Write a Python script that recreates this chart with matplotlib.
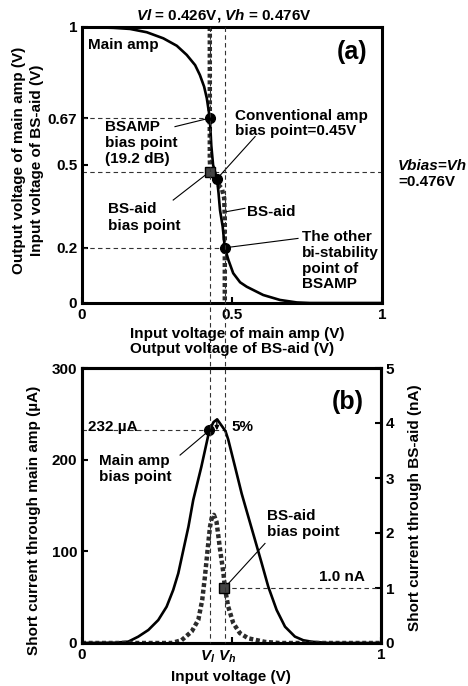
import matplotlib
matplotlib.use("Agg")
import matplotlib.pyplot as plt
from matplotlib.lines import Line2D
from matplotlib.transforms import blended_transform_factory

plt.rcParams["font.family"] = ["Liberation Sans", "DejaVu Sans"]
plt.rcParams["font.weight"] = "bold"
plt.rcParams["font.size"] = 11
plt.rcParams["mathtext.fontset"] = "custom"
plt.rcParams["mathtext.rm"] = "Liberation Sans:bold"
plt.rcParams["mathtext.it"] = "Liberation Sans:bold:italic"
plt.rcParams["mathtext.bf"] = "Liberation Sans:bold"

# switching voltages of the BS-aid
v_low = 0.426
v_high = 0.476

# (a) transfer curve of the main amp: input -> output (V)
main_vin = [0.0, 0.104, 0.16, 0.216, 0.271, 0.316, 0.349, 0.377, 0.393,
            0.407, 0.416, 0.426, 0.431, 0.437, 0.45, 0.455, 0.46, 0.469,
            0.476, 0.488, 0.504, 0.527, 0.549, 0.604, 0.66, 0.716, 0.76, 1.0]
main_vout = [1.0, 0.997, 0.993, 0.981, 0.959, 0.932, 0.899, 0.862, 0.826,
             0.784, 0.742, 0.67, 0.57, 0.50, 0.45, 0.40, 0.337, 0.276,
             0.2, 0.156, 0.108, 0.075, 0.059, 0.029, 0.011, 0.002, 0.0, 0.0]

# (a) BS-aid curve, plotted as output (x) vs input (y)
bsaid_vout = [0.426, 0.426, 0.428, 0.445, 0.466, 0.474, 0.476, 0.476]
bsaid_vin = [1.0, 0.52, 0.476, 0.44, 0.415, 0.38, 0.30, 0.0]

# (a) operating points
bsamp_bias = (0.426, 0.67)
conv_bias = (0.45, 0.45)
bsaid_bias = (0.426, 0.476)
other_point = (0.476, 0.2)

# (b) short current through the main amp (uA)
cur_vin = [0.0, 0.11, 0.155, 0.188, 0.222, 0.255, 0.283, 0.305, 0.322,
           0.339, 0.356, 0.372, 0.399, 0.426, 0.44, 0.452, 0.465, 0.48,
           0.489, 0.512, 0.534, 0.556, 0.579, 0.601, 0.623, 0.651, 0.679,
           0.712, 0.74, 0.768, 0.824, 1.0]
cur_main = [0.0, 0.3, 1.5, 6.9, 14.2, 25.0, 39.6, 57.8, 76.0,
            101.5, 126.9, 156.0, 192.0, 232.0, 241.0, 244.0, 238.0, 231.0,
            222.0, 192.0, 163.0, 138.0, 112.0, 87.0, 61.4, 36.0, 17.8,
            7.0, 3.0, 1.4, 0.0, 0.0]

# (b) short current through the BS-aid (nA)
aid_vin = [0.0, 0.3, 0.333, 0.367, 0.389, 0.402, 0.411, 0.42, 0.428, 0.434,
           0.441, 0.45, 0.462, 0.473, 0.478, 0.489, 0.506, 0.528, 0.556,
           0.612, 0.66, 1.0]
cur_aid = [0.0, 0.0, 0.05, 0.21, 0.42, 0.78, 1.2, 1.69, 2.11, 2.28,
           2.33, 2.2, 1.69, 1.27, 1.0, 0.66, 0.36, 0.18, 0.085,
           0.02, 0.0, 0.0]

main_bias_cur = 232.0
peak_cur = 244.0
aid_bias_cur = 1.0

W, H = 468, 686
dash = dict(color="#333333", lw=0.8, ls=(0, (4, 3)))
dot_style = dict(color="#2b2b2b", lw=3.2, ls=(0, (0.9, 0.6)))


def style_axes(ax):
    for s in ax.spines.values():
        s.set_linewidth(2.2)
    ax.tick_params(direction="in", length=4, width=1.5, labelsize=11)


fig = plt.figure(figsize=(W / 100, H / 100), dpi=100)

# ---------------- panel (a) ----------------
ax_a = fig.add_axes([82 / W, 1 - 303 / H, 300 / W, 276 / H])
ax_a.set_xlim(0, 1)
ax_a.set_ylim(0, 1)
style_axes(ax_a)
ax_a.set_xticks([0, 0.5, 1])
ax_a.set_xticklabels(["0", "0.5", "1"])
ax_a.set_yticks([0, 0.2, 0.5, 0.67, 1])
ax_a.set_yticklabels(["0", "0.2", "0.5", "0.67", "1"])

ax_a.plot([0, bsamp_bias[0]], [bsamp_bias[1]] * 2, **dash)
ax_a.plot([0, 1], [v_high] * 2, **dash)
ax_a.plot([0, other_point[0]], [other_point[1]] * 2, **dash)

ax_a.plot(bsaid_vout, bsaid_vin, **dot_style)
ax_a.plot(main_vin, main_vout, color="k", lw=1.9)

for p in (bsamp_bias, conv_bias, other_point):
    ax_a.plot(*p, "o", color="k", ms=7, zorder=5)
ax_a.plot(*bsaid_bias, "s", mfc="#444444", mec="k", ms=6.5, zorder=5)

ax_a.text(0.02, 0.935, "Main amp", va="center", ha="left")
ax_a.text(0.9, 0.909, "(a)", va="center", ha="center", fontsize=18)
ax_a.text(0.077, 0.58, "BSAMP\nbias point\n(19.2 dB)", va="center", ha="left",
          linespacing=1.2)
ax_a.text(0.51, 0.651, "Conventional amp\nbias point=0.45V", va="center",
          ha="left", linespacing=1.05)
ax_a.text(0.087, 0.31, "BS-aid\nbias point", va="center", ha="left",
          linespacing=1.2)
ax_a.text(0.55, 0.331, "BS-aid", va="center", ha="left")
ax_a.text(0.732, 0.153, "The other\nbi-stability\npoint of\nBSAMP",
          va="center", ha="left", linespacing=1.15)

lw_ann = 0.8
ax_a.plot([0.31, bsamp_bias[0]], [0.639, bsamp_bias[1]], color="k", lw=lw_ann)
ax_a.plot([0.304, bsaid_bias[0]], [0.373, bsaid_bias[1]], color="k", lw=lw_ann)
ax_a.plot([conv_bias[0], 0.577], [conv_bias[1], 0.603], color="k", lw=lw_ann)
ax_a.plot([0.482, 0.543], [0.331, 0.343], color="k", lw=lw_ann)
ax_a.plot([other_point[0], 0.72], [other_point[1], 0.234], color="k", lw=lw_ann)

fig.text(224 / W, 1 - 15 / H, r"$Vl$ = 0.426V, $Vh$ = 0.476V",
         ha="center", va="center")
fig.text(398 / W, 1 - 166 / H, "Vbias=Vh", style="italic", ha="left",
         va="center")
fig.text(398 / W, 1 - 182 / H, "=0.476V", ha="left", va="center")
fig.text(130 / W, 1 - 341.3 / H,
         "Input voltage of main amp (V)\nOutput voltage of BS-aid (V)",
         ha="left", va="center", linespacing=1.1)
fig.text(19.5 / W, 1 - 160 / H, "Output voltage of main amp (V)",
         rotation=90, ha="center", va="center")
fig.text(37.5 / W, 1 - 160 / H, "Input voltage of BS-aid (V)",
         rotation=90, ha="center", va="center")

# ---------------- panel (b) ----------------
ax_b = fig.add_axes([82 / W, 1 - 643 / H, 299 / W, 275 / H])
ax_b.set_xlim(0, 1)
ax_b.set_ylim(0, 300)
style_axes(ax_b)
ax_b.set_xticks([0, 0.5, 1])
ax_b.set_xticklabels(["0", "", "1"])
ax_b.set_yticks([0, 100, 200, 300])
ax_r = ax_b.twinx()
ax_r.set_ylim(0, 5)
style_axes(ax_r)
ax_r.set_yticks([0, 1, 2, 3, 4, 5])

ax_b.plot([0, 0.48], [main_bias_cur] * 2, **dash)
ax_r.plot([v_high, 1], [aid_bias_cur] * 2, **dash)

ax_r.plot(aid_vin, cur_aid, **dot_style)
ax_b.plot(cur_vin, cur_main, color="k", lw=1.9)
ax_b.plot(v_low, main_bias_cur, "o", color="k", ms=7, zorder=5)
ax_r.plot(v_high, aid_bias_cur, "s", mfc="#444444", mec="k", ms=6.5, zorder=5)

ax_b.annotate("", xy=(0.451, main_bias_cur), xytext=(0.451, peak_cur),
              arrowprops=dict(arrowstyle="-|>", lw=1, color="k",
                              mutation_scale=6, shrinkA=0, shrinkB=0))

ax_b.text(0.888, 263, "(b)", va="center", ha="center", fontsize=18)
ax_b.text(0.02, 235.3, "232 \u00b5A", va="center", ha="left")
ax_b.text(0.5, 235.6, "5%", va="center", ha="left")
ax_b.text(0.058, 190, "Main amp\nbias point", va="center", ha="left",
          linespacing=1.2)
ax_b.plot([0.328, v_low], [205, main_bias_cur], color="k", lw=lw_ann)
ax_b.text(0.618, 129.6, "BS-aid\nbias point", va="center", ha="left",
          linespacing=1.2)
ax_r.plot([v_high, 0.612], [aid_bias_cur, 1.81], color="k", lw=lw_ann)
ax_r.text(0.946, 1.2, "1.0 nA", va="center", ha="right")

tb = blended_transform_factory(ax_b.transData, ax_b.transAxes)
ax_b.text(v_low - 0.006, -0.05, r"$V_l$", transform=tb, ha="center",
          va="center")
ax_b.text(v_high + 0.008, -0.05, r"$V_h$", transform=tb, ha="center",
          va="center")

fig.text(231 / W, 1 - 676.7 / H, "Input voltage (V)", ha="center",
         va="center")
fig.text(34 / W, 1 - 520 / H, "Short current through main amp (\u00b5A)",
         rotation=90, ha="center", va="center")
fig.text(415 / W, 1 - 508 / H, "Short current through BS-aid (nA)",
         rotation=90, ha="center", va="center")

# vertical Vl / Vh guides running through both panels
tf = blended_transform_factory(ax_a.transData, fig.transFigure)
for v in (v_low, v_high):
    fig.add_artist(Line2D([v, v], [1 - 27 / H, 1 - 643 / H], transform=tf,
                          **dash))

fig.savefig("out.png", dpi=100)
